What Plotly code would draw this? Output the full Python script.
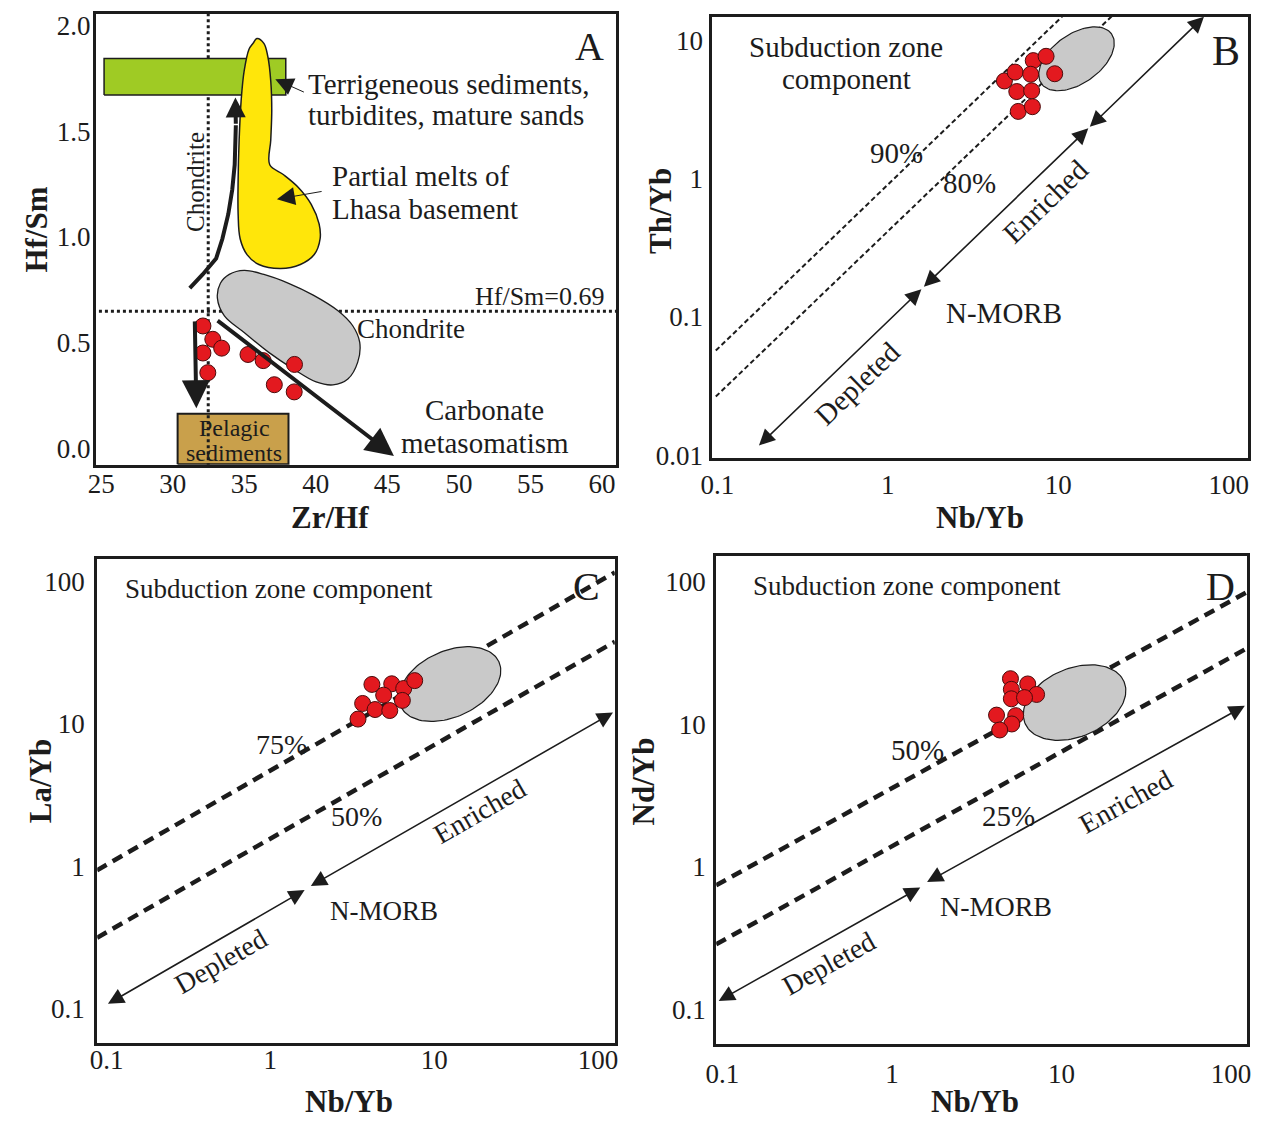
import numpy as np
import plotly.graph_objects as go

W, H = 1266, 1129
FONT = "Liberation Serif, Times New Roman, serif"
INK = "#1c1c1c"

# ---------------- data: panel A (Zr/Hf vs Hf/Sm) ----------------
a_zr_hf = [32.11, 32.80, 33.42, 32.11, 32.45, 35.26, 36.32, 38.51, 37.10, 38.49]
a_hf_sm = [0.578, 0.515, 0.473, 0.450, 0.357, 0.443, 0.414, 0.396, 0.300, 0.266]
a_chondrite_zrhf = 32.48
a_chondrite_hfsm = 0.648
a_x_ticks = [25, 30, 35, 40, 45, 50, 55, 60]
a_y_ticks = [0.0, 0.5, 1.0, 1.5, 2.0]
a_y_ticktext = ["0.0", "0.5", "1.0", "1.5", "2.0"]

# reference fields of panel A
a_terr_x = [25.2, 37.9, 37.9, 25.2, 25.2]
a_terr_y = [1.671, 1.671, 1.844, 1.844, 1.671]
a_pelagic_x = [30.34, 38.09, 38.09, 30.34, 30.34]
a_pelagic_y = [-0.076, -0.076, 0.162, 0.162, -0.076]
a_lhasa_x = [35.88, 36.37, 36.64, 36.85, 36.92, 36.85, 36.78, 37.75, 38.78, 39.68, 40.23,
             40.30, 39.89, 38.92, 37.54, 36.02, 35.19, 34.71, 34.57, 34.57, 34.64, 34.78,
             34.99, 35.33, 35.61, 35.88]
a_lhasa_y = [1.939, 1.916, 1.855, 1.738, 1.598, 1.458, 1.341, 1.294, 1.234, 1.154, 1.061,
             0.991, 0.916, 0.869, 0.850, 0.869, 0.916, 0.991, 1.107, 1.271, 1.458, 1.645,
             1.785, 1.888, 1.916, 1.939]
a_chon_x = [33.12, 33.33, 33.95, 34.99, 36.37, 38.10, 39.82, 41.55, 42.58, 43.07, 42.93,
            42.24, 41.20, 40.02, 38.44, 36.71, 34.99, 33.61, 33.12]
a_chon_y = [0.710, 0.780, 0.822, 0.841, 0.822, 0.780, 0.724, 0.650, 0.579, 0.500, 0.407,
            0.327, 0.299, 0.313, 0.374, 0.453, 0.547, 0.626, 0.710]
a_trend_x = [31.19, 32.09, 33.03, 33.47, 33.88, 34.16, 34.33, 34.40, 34.41]
a_trend_y = [0.757, 0.822, 0.897, 0.991, 1.107, 1.224, 1.341, 1.458, 1.528]

# ---------------- data: panel B (Nb/Yb vs Th/Yb) ----------------
b_nb_yb = [4.83, 5.58, 7.13, 8.48, 6.89, 9.53, 5.71, 6.98, 5.82, 7.05]
b_th_yb = [5.08, 5.89, 7.13, 7.66, 5.68, 5.73, 4.26, 4.31, 3.06, 3.31]
b_mix90_x = [0.098, 10.74]
b_mix90_y = [0.057, 15.2]
b_mix80_x = [0.098, 20.9]
b_mix80_y = [0.0265, 15.2]
b_array_x = [0.172, 1.574, 1.596, 15.0, 71.5]
b_array_y = [0.01146, 0.1586, 0.1612, 2.31, 14.8]
b_x_ticks = [0.1, 1, 10, 100]
b_y_ticks = [0.01, 0.1, 1, 10]

# ---------------- data: panel C (Nb/Yb vs La/Yb) ----------------
c_nb_yb = [4.17, 5.51, 6.52, 7.61, 4.92, 3.66, 6.40, 4.36, 5.36, 3.43]
c_la_yb = [18.9, 19.1, 17.7, 20.1, 15.9, 13.9, 14.6, 12.6, 12.4, 10.8]
c_mix75_x = [0.0875, 127]
c_mix75_y = [0.94, 115.5]
c_mix50_x = [0.0875, 127]
c_mix50_y = [0.316, 37.7]
c_array_x = [0.0999, 1.62, 1.73, 123.6]
c_array_y = [0.107, 0.682, 0.719, 12.0]

# ---------------- data: panel D (Nb/Yb vs Nd/Yb) ----------------
d_nb_yb = [5.00, 6.32, 5.06, 7.13, 5.06, 6.05, 4.14, 5.37, 5.09, 4.32]
d_nd_yb = [20.9, 19.2, 17.6, 16.2, 15.1, 15.4, 11.6, 11.5, 10.05, 9.12]
d_mix50_x = [0.092, 124]
d_mix50_y = [0.741, 84.8]
d_mix25_x = [0.092, 124]
d_mix25_y = [0.285, 34.2]
d_array_x = [0.0933, 1.47, 1.58, 120.5]
d_array_y = [0.1125, 0.715, 0.769, 13.5]
cd_ticks = [0.1, 1, 10, 100]

# gray reference fields (centre, two semi-axis vectors in decades)
b_field = dict(cx=12.79, cy=7.35, a=(0.205, 0.181), b=(0.084, -0.144))
c_field = dict(cx=12.47, cy=19.01, a=(0.2997, 0.1564), b=(0.0835, -0.2104))
d_field = dict(cx=11.94, cy=14.21, a=(0.292, 0.146), b=(0.0783, -0.2217))


def field_outline(f, n=120):
    t = np.linspace(0, 2 * np.pi, n)
    lx = np.log10(f["cx"]) + f["a"][0] * np.cos(t) + f["b"][0] * np.sin(t)
    ly = np.log10(f["cy"]) + f["a"][1] * np.cos(t) + f["b"][1] * np.sin(t)
    return 10 ** lx, 10 ** ly


fig = go.Figure()

DOT = dict(size=16, color="#e3191f", line=dict(color="#4a0c0c", width=1))
GRAY = "#c9c9c9"


def poly(x, y, xa, ya, fill, lw=1.3, spline=False):
    fig.add_trace(go.Scatter(x=x, y=y, xaxis=xa, yaxis=ya, mode="lines", fill="toself",
                             fillcolor=fill, line=dict(color=INK, width=lw,
                                                       shape="spline" if spline else "linear"),
                             hoverinfo="skip", showlegend=False))


def line(x, y, xa, ya, width, dash, color=INK):
    fig.add_trace(go.Scatter(x=x, y=y, xaxis=xa, yaxis=ya, mode="lines",
                             line=dict(color=color, width=width, dash=dash),
                             hoverinfo="skip", showlegend=False))


# ---- panel A traces ----
poly(a_pelagic_x, a_pelagic_y, "x", "y", "#c9a04b", lw=2)
line([a_chondrite_zrhf, a_chondrite_zrhf], [-0.2, 2.2], "x", "y", 3, "3px,3px")
line([24, 62], [a_chondrite_hfsm, a_chondrite_hfsm], "x", "y", 3, "3px,3px")
poly(a_terr_x, a_terr_y, "x", "y", "#9fcb24", lw=1.5)
poly(a_lhasa_x, a_lhasa_y, "x", "y", "#ffe60a", lw=1.5, spline=True)
poly(a_chon_x, a_chon_y, "x", "y", GRAY, lw=1.3, spline=True)
line(a_trend_x, a_trend_y, "x", "y", 4, "solid")
fig.add_trace(go.Scatter(x=a_zr_hf, y=a_hf_sm, xaxis="x", yaxis="y", mode="markers",
                         marker=DOT, hoverinfo="skip", showlegend=False))

# ---- panel B traces ----
line(b_mix90_x, b_mix90_y, "x2", "y2", 2, "5px,3px")
line(b_mix80_x, b_mix80_y, "x2", "y2", 2, "5px,3px")
bx, by = field_outline(b_field)
poly(list(bx), list(by), "x2", "y2", GRAY, lw=1.2)
fig.add_trace(go.Scatter(x=b_nb_yb, y=b_th_yb, xaxis="x2", yaxis="y2", mode="markers",
                         marker=DOT, hoverinfo="skip", showlegend=False))

# ---- panel C traces ----
line(c_mix75_x, c_mix75_y, "x3", "y3", 4.5, "11px,7px")
line(c_mix50_x, c_mix50_y, "x3", "y3", 4.5, "11px,7px")
cx, cy = field_outline(c_field)
poly(list(cx), list(cy), "x3", "y3", GRAY, lw=1.2)
fig.add_trace(go.Scatter(x=c_nb_yb, y=c_la_yb, xaxis="x3", yaxis="y3", mode="markers",
                         marker=DOT, hoverinfo="skip", showlegend=False))

# ---- panel D traces ----
line(d_mix50_x, d_mix50_y, "x4", "y4", 4.5, "11px,7px")
line(d_mix25_x, d_mix25_y, "x4", "y4", 4.5, "11px,7px")
dx, dy = field_outline(d_field)
poly(list(dx), list(dy), "x4", "y4", GRAY, lw=1.2)
fig.add_trace(go.Scatter(x=d_nb_yb, y=d_nd_yb, xaxis="x4", yaxis="y4", mode="markers",
                         marker=DOT, hoverinfo="skip", showlegend=False))

ann = []


def arrow(xr, yr, tail, tip, width, size, log=False, both=False, head=2):
    f = (lambda v: float(np.log10(v))) if log else (lambda v: v)
    d = dict(x=f(tip[0]), y=f(tip[1]), ax=f(tail[0]), ay=f(tail[1]), xref=xr, yref=yr,
             axref=xr, ayref=yr, text="", showarrow=True, arrowhead=head, arrowsize=size,
             arrowwidth=width, arrowcolor=INK, standoff=0, startstandoff=0)
    if both:
        d.update(arrowside="end+start", startarrowhead=head, startarrowsize=size)
    ann.append(d)


def txt(s, x, y, xr, yr, size, angle=0, xanchor="center", bold=False):
    ann.append(dict(text=("<b>%s</b>" % s) if bold else s, x=x, y=y, xref=xr, yref=yr,
                    showarrow=False, textangle=angle, xanchor=xanchor, yanchor="middle",
                    font=dict(family=FONT, size=size, color=INK)))


# ---- panel A annotations ----
arrow("x", "y", (a_trend_x[-1], a_trend_y[-1]), (34.38, 1.66), 4, 1.0)
arrow("x", "y", (31.54, 0.607), (31.65, 0.188), 4, 1.4)
arrow("x", "y", (33.03, 0.609), (45.46, -0.037), 4, 1.4)
arrow("x", "y", (39.27, 1.682), (37.17, 1.746), 1, 3.6)
arrow("x", "y", (40.51, 1.216), (37.28, 1.178), 1, 3.6)
txt("A", 59.13, 1.902, "x", "y", 40)
txt("Terrigeneous sediments,", 39.30, 1.723, "x", "y", 29, xanchor="left")
txt("turbidites, mature sands", 39.30, 1.575, "x", "y", 29, xanchor="left")
txt("Partial melts of", 40.97, 1.286, "x", "y", 29, xanchor="left")
txt("Lhasa basement", 40.97, 1.131, "x", "y", 29, xanchor="left")
txt("Chondrite", 31.54, 1.259, "x", "y", 25, angle=-90)
txt("Hf/Sm=0.69", 60.38, 0.718, "x", "y", 26, xanchor="right")
txt("Chondrite", 46.65, 0.562, "x", "y", 27)
txt("Carbonate", 51.76, 0.182, "x", "y", 29)
txt("metasomatism", 51.83, 0.025, "x", "y", 29)
txt("Pelagic", 34.30, 0.095, "x", "y", 24)
txt("sediments", 34.30, -0.022, "x", "y", 24)

# ---- panel B annotations ----
arrow("x2", "y2", (b_array_x[0], b_array_y[0]), (b_array_x[1], b_array_y[1]), 1.6, 2.0, log=True, both=True)
arrow("x2", "y2", (b_array_x[2], b_array_y[2]), (b_array_x[3], b_array_y[3]), 1.6, 2.0, log=True, both=True)
arrow("x2", "y2", (b_array_x[3], b_array_y[3]), (b_array_x[4], b_array_y[4]), 1.6, 2.0, log=True, both=True)
txt("Subduction zone", -0.243, 0.955, "x2", "y2", 29)
txt("component", -0.243, 0.718, "x2", "y2", 29)
txt("B", 1.986, 0.920, "x2", "y2", 42)
txt("90%", 0.052, 0.185, "x2", "y2", 29)
txt("80%", 0.481, -0.029, "x2", "y2", 29)
txt("Enriched", 0.927, -0.165, "x2", "y2", 29, angle=-44)
txt("Depleted", -0.175, -1.482, "x2", "y2", 29, angle=-44)
txt("N-MORB", 0.684, -0.971, "x2", "y2", 29)

# ---- panel C annotations ----
arrow("x3", "y3", (c_array_x[0], c_array_y[0]), (c_array_x[1], c_array_y[1]), 1.6, 2.0, log=True, both=True)
arrow("x3", "y3", (c_array_x[2], c_array_y[2]), (c_array_x[3], c_array_y[3]), 1.6, 2.0, log=True, both=True)
txt("Subduction zone component", 0.054, 1.945, "x3", "y3", 27)
txt("C", 1.933, 1.966, "x3", "y3", 40)
txt("75%", 0.069, 0.858, "x3", "y3", 28)
txt("50%", 0.528, 0.348, "x3", "y3", 28)
txt("Enriched", 1.276, 0.388, "x3", "y3", 28, angle=-30)
txt("Depleted", -0.305, -0.664, "x3", "y3", 28, angle=-30)
txt("N-MORB", 0.691, -0.316, "x3", "y3", 27)

# ---- panel D annotations ----
arrow("x4", "y4", (d_array_x[0], d_array_y[0]), (d_array_x[1], d_array_y[1]), 1.6, 2.0, log=True, both=True)
arrow("x4", "y4", (d_array_x[2], d_array_y[2]), (d_array_x[3], d_array_y[3]), 1.6, 2.0, log=True, both=True)
txt("Subduction zone component", 0.0864, 1.972, "x4", "y4", 27)
txt("D", 1.9375, 1.970, "x4", "y4", 40)
txt("50%", 0.150, 0.820, "x4", "y4", 29)
txt("25%", 0.686, 0.355, "x4", "y4", 29)
txt("Enriched", 1.379, 0.4595, "x4", "y4", 28, angle=-29)
txt("Depleted", -0.373, -0.677, "x4", "y4", 28, angle=-29)
txt("N-MORB", 0.611, -0.282, "x4", "y4", 28)

# ---- axis titles ----
for s, px, py, ang in [("Hf/Sm", 25, 231, -90), ("Zr/Hf", 322, 522, 0),
                       ("Th/Yb", 656, 212, -90), ("Nb/Yb", 980, 522, 0),
                       ("La/Yb", 29, 790, -90), ("Nb/Yb", 341, 1114, 0),
                       ("Nd/Yb", 640, 790, -90), ("Nb/Yb", 975, 1114, 0)]:
    txt(s, px / W, 1 - py / H, "paper", "paper", 31, angle=ang, bold=True)

common = dict(showgrid=False, zeroline=False, showline=True, mirror=True, linecolor=INK,
              linewidth=3, ticks="", tickfont=dict(family=FONT, size=27, color=INK))


def xa(domain, rng, anchor, vals, text=None, log=False, standoff=6):
    d = dict(common, domain=[domain[0] / W, domain[1] / W], range=rng, anchor=anchor,
             tickvals=vals, ticktext=text or [str(v) for v in vals], ticklabelstandoff=standoff)
    if log:
        d["type"] = "log"
    return d


def ya(domain, rng, anchor, vals, text=None, log=False, standoff=6):
    d = dict(common, domain=[1 - domain[1] / H, 1 - domain[0] / H], range=rng, anchor=anchor,
             tickvals=vals, ticktext=text or [str(v) for v in vals], ticklabelstandoff=standoff)
    if log:
        d["type"] = "log"
    return d


fig.update_layout(
    width=W, height=H, margin=dict(l=0, r=0, t=0, b=0), autosize=False,
    paper_bgcolor="white", plot_bgcolor="white", showlegend=False,
    xaxis=xa((85, 611.7), [24.63, 60.98], "y", a_x_ticks, standoff=-7),
    yaxis=ya((11.7, 469), [-0.079, 2.057], "x", a_y_ticks, a_y_ticktext, standoff=-3),
    xaxis2=xa((709.3, 1251.7), [-1.029, 2.112], "y2", b_x_ticks, log=True, standoff=1),
    yaxis2=ya((15, 461.7), [-2.018, 1.17], "x2", b_y_ticks, log=True, standoff=1),
    xaxis3=xa((86.3, 610.5), [-1.057, 2.103], "y3", cd_ticks, log=True, standoff=-9),
    yaxis3=ya((565, 1055), [-1.239, 2.153], "x3", cd_ticks, log=True, standoff=4),
    xaxis4=xa((713.2, 1250.7), [-1.036, 2.093], "y4", cd_ticks, log=True, standoff=4),
    yaxis4=ya((561, 1056), [-1.245, 2.185], "x4", cd_ticks, log=True, standoff=2),
    annotations=ann,
)

fig.write_html("out.html", config={"displayModeBar": False},
               post_script="document.body.style.margin='0';document.body.style.overflow='hidden';")
